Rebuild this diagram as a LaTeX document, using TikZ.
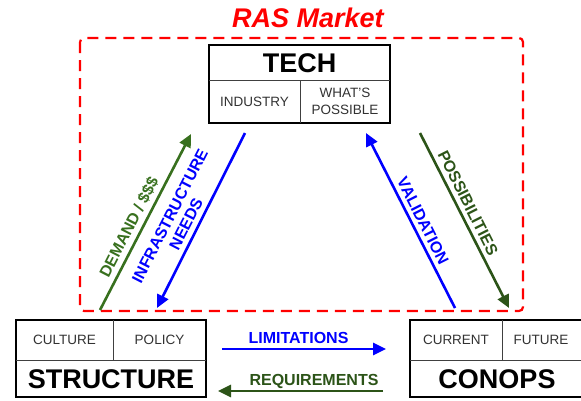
\documentclass[tikz,border=0pt]{standalone}
\usepackage{fontspec}
\setmainfont{Liberation Sans}
\usetikzlibrary{arrows.meta}
\definecolor{rasred}{RGB}{255,0,0}
\definecolor{arblue}{RGB}{0,0,255}
\definecolor{argreen}{RGB}{56,112,30}
\definecolor{ardkgreen}{RGB}{44,84,24}
\definecolor{smalltxt}{RGB}{50,50,50}
\begin{document}
\begin{tikzpicture}[x=1pt,y=-1pt,
 box/.style={draw=black, line width=2.4pt},
 divider/.style={draw=black!75, line width=0.8pt},
 bigtxt/.style={font=\fontsize{27}{30}\selectfont\bfseries, inner sep=0pt},
 smtxt/.style={font=\fontsize{13.5}{16.5}\selectfont, text=smalltxt, align=center, inner sep=0pt},
 arr/.style={line width=2.6pt, -{Triangle[length=13pt,width=12pt]}},
 lbl/.style={font=\fontsize{16}{18}\selectfont\bfseries, align=center, inner sep=0pt}
]
\clip (0,0) rectangle (581,400);
\fill[white] (0,0) rectangle (581,400);

% market frame
\draw[rasred, line width=2.2pt, dash pattern=on 11pt off 7pt, rounded corners=4pt] (80,38) rectangle (523,311);
\node[font=\fontsize{27}{30}\selectfont\bfseries\itshape, text=rasred, inner sep=0pt] (ras) at (308,18) {RAS Market};

% TECH box
\draw[box] (209,45) rectangle (390,123);
\draw[divider] (209,80) -- (390,80);
\draw[divider] (300,80) -- (300,123);
\node[bigtxt] (tech) at (299.5,63) {TECH};
\node[smtxt] (industry) at (254.5,101.5) {INDUSTRY};
\node[smtxt] (possible) at (345,101.5) {WHAT'S\\POSSIBLE};

% STRUCTURE box
\draw[box] (16,320) rectangle (206,397);
\draw[divider] (16,360) -- (206,360);
\draw[divider] (113,320) -- (113,360);
\node[smtxt] (culture) at (64.5,340) {CULTURE};
\node[smtxt] (policy) at (159.5,340) {POLICY};
\node[bigtxt] (structure) at (111,379) {STRUCTURE};

% CONOPS box
\draw[box] (410,320) rectangle (600,397);
\draw[divider] (410,360) -- (600,360);
\draw[divider] (502,320) -- (502,360);
\node[smtxt] (current) at (456,340) {CURRENT};
\node[smtxt] (future) at (541,340) {FUTURE};
\node[bigtxt] (conops) at (497,379) {CONOPS};

% arrow end points
\coordinate (d1) at (100,310); \coordinate (d2) at (191,134);
\coordinate (i1) at (245,133); \coordinate (i2) at (157,308);
\coordinate (v1) at (455,308); \coordinate (v2) at (366,133);
\coordinate (p1) at (420,133); \coordinate (p2) at (509,308);
\coordinate (l1) at (222,349); \coordinate (l2) at (386,349);
\coordinate (r1) at (383,391); \coordinate (r2) at (218,391);

\draw[arr, argreen] (d1) -- (d2);
\draw[arr, arblue] (i1) -- (i2);
\draw[arr, arblue] (v1) -- (v2);
\draw[arr, ardkgreen] (p1) -- (p2);
\draw[arr, arblue] (l1) -- (l2);
\draw[arr, ardkgreen] (r1) -- (r2);

% labels
\node[lbl, text=argreen, rotate=62.8] (demand) at (129,227) {DEMAND / \$\$\$};
\node[lbl, text=arblue, rotate=62.8] (infra) at (178,220) {INFRASTRUCTURE\\NEEDS};
\node[lbl, text=arblue, rotate=-63.3] (valid) at (423,221) {VALIDATION};
\node[lbl, text=ardkgreen, rotate=-63.3] (poss) at (468,203) {POSSIBILITIES};
\node[lbl, text=arblue] (limit) at (298.5,338) {LIMITATIONS};
\node[lbl, text=ardkgreen] (req) at (314,381) {REQUIREMENTS};
\end{tikzpicture}
\end{document}
